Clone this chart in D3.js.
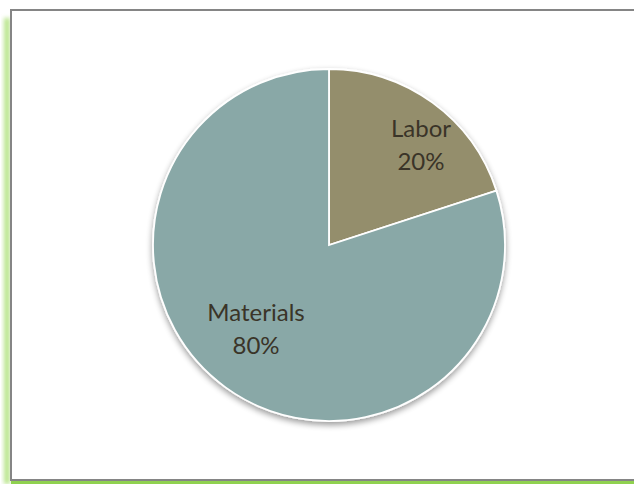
<!DOCTYPE html>
<html><head><meta charset="utf-8">
<script src="https://cdn.jsdelivr.net/npm/d3@7"></script>
<style>html,body{margin:0;padding:0;background:#fff;overflow:hidden}</style>
</head><body>
<script>
const categories = ["Labor", "Materials"];
const values = [20, 80];
const labels = ["20%", "80%"];
const colors = ["#948E6C", "#89A8A7"];

const W = 634, H = 484;
const svg = d3.select("body").append("svg").attr("width", W).attr("height", H);
const defs = svg.append("defs");
const glow = defs.append("filter").attr("id","glow").attr("x","-50%").attr("y","-5%").attr("width","200%").attr("height","110%");
glow.append("feGaussianBlur").attr("stdDeviation", 2);
const sh = defs.append("filter").attr("id","sh").attr("x","-20%").attr("y","-20%").attr("width","140%").attr("height","150%");
sh.append("feGaussianBlur").attr("in","SourceAlpha").attr("stdDeviation",3).attr("result","b");
sh.append("feOffset").attr("in","b").attr("dy",3).attr("result","o");
sh.append("feComponentTransfer").attr("in","o").attr("result","o2").append("feFuncA").attr("type","linear").attr("slope",0.4);
const m = sh.append("feMerge"); m.append("feMergeNode").attr("in","o2"); m.append("feMergeNode").attr("in","SourceGraphic");

// frame: soft green glow on the left, green band at the bottom, grey border
svg.append("rect").attr("x",4).attr("y",18).attr("width",6).attr("height",466)
  .attr("fill","#b9e58c").attr("filter","url(#glow)");
svg.append("rect").attr("x",11).attr("y",480).attr("width",W).attr("height",4).attr("fill","#8fd14f");
svg.append("rect").attr("x",11).attr("y",10).attr("width",W).attr("height",470)
  .attr("fill","#fff").attr("stroke","#858585").attr("stroke-width",2);

const cx = 329, cy = 245, r = 176;
const pie = d3.pie().sort(null).value(d => d)(values);
const arc = d3.arc().innerRadius(0).outerRadius(r);
const g = svg.append("g").attr("transform", `translate(${cx},${cy})`);
g.append("g").attr("filter","url(#sh)").selectAll("path").data(pie).join("path")
  .attr("d", arc).attr("fill", (d,i) => colors[i]).attr("stroke","#fff").attr("stroke-width",1.8);

const lblPos = [[92, -108], [-73, 76]];
pie.forEach((d,i) => {
  const t = g.append("text").attr("text-anchor","middle").attr("font-family","Lato, 'Open Sans', sans-serif")
    .attr("font-size",24).attr("fill","#3a3428");
  const x = lblPos[i][0], y = lblPos[i][1];
  t.append("tspan").attr("x", x).attr("y", y).text(categories[i]);
  t.append("tspan").attr("x", x).attr("y", y + 33).text(labels[i]);
});
</script>
</body></html>
